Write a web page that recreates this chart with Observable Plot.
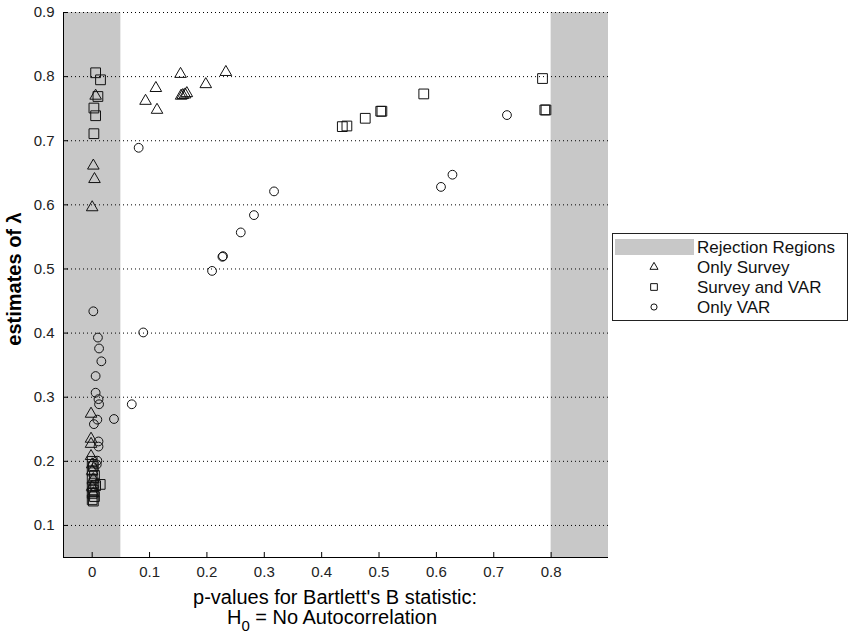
<!DOCTYPE html>
<html>
<head>
<meta charset="utf-8">
<script src="https://cdn.jsdelivr.net/npm/d3@7"></script>
<script src="https://cdn.jsdelivr.net/npm/@observablehq/plot@0.6"></script>
<style>
  body { margin: 0; background: #fff; }
  #wrap { position: relative; width: 850px; height: 635px; font-family: "Liberation Sans", Arial, sans-serif; }
  #legend { position: absolute; left: 612px; top: 233px; }
</style>
</head>
<body>
<div id="wrap"></div>
<script>
// ---- data ----
const xTicks = [0, 0.1, 0.2, 0.3, 0.4, 0.5, 0.6, 0.7, 0.8];
const xTickLabels = ["0", "0.1", "0.2", "0.3", "0.4", "0.5", "0.6", "0.7", "0.8"];
const yTicks = [0.1, 0.2, 0.3, 0.4, 0.5, 0.6, 0.7, 0.8, 0.9];
const yTickLabels = ["0.1", "0.2", "0.3", "0.4", "0.5", "0.6", "0.7", "0.8", "0.9"];
const rejectionStart = [-0.05, 0.8];
const rejectionEnd = [0.05, 0.9];

// Only Survey (triangles)
const surveyP = [0.154, 0.233, 0.111, 0.198, 0.093, 0.113, 0.155, 0.158, 0.162, 0.165,
  0.002, 0.004, 0.000, 0.006, -0.002, -0.002, -0.002, -0.002, 0.000, 0.000, 0.002, 0.000, 0.002];
const surveyL = [0.804, 0.807, 0.782, 0.788, 0.762, 0.748, 0.770, 0.771, 0.772, 0.774,
  0.661, 0.640, 0.596, 0.770, 0.274, 0.235, 0.227, 0.208, 0.195, 0.185, 0.172, 0.160, 0.150];

// Survey and VAR (squares)
const bothP = [0.006, 0.0145, 0.010, 0.003, 0.006, 0.003, 0.785, 0.789, 0.791, 0.578, 0.503, 0.505, 0.476, 0.436, 0.444,
  0.000, 0.002, 0.000, 0.004, 0.000, 0.003, 0.000, 0.014, 0.006, 0.002, 0.000, 0.004, 0.000, 0.002];
const bothL = [0.806, 0.795, 0.769, 0.751, 0.739, 0.711, 0.797, 0.748, 0.748, 0.773, 0.746, 0.746, 0.735, 0.722, 0.723,
  0.200, 0.192, 0.185, 0.178, 0.172, 0.166, 0.160, 0.164, 0.162, 0.155, 0.150, 0.145, 0.140, 0.138];

// Only VAR (circles)
const varP = [0.723, 0.628, 0.608, 0.317, 0.282, 0.259, 0.227, 0.228, 0.209, 0.081, 0.089, 0.069,
  0.002, 0.010, 0.012, 0.016, 0.006, 0.006, 0.011, 0.012, 0.009, 0.038, 0.003, 0.011, 0.011, 0.009, 0.008];
const varL = [0.740, 0.647, 0.628, 0.621, 0.584, 0.557, 0.519, 0.520, 0.497, 0.689, 0.401, 0.289,
  0.434, 0.393, 0.376, 0.356, 0.333, 0.307, 0.297, 0.289, 0.265, 0.266, 0.258, 0.231, 0.223, 0.201, 0.195];

const legendLabels = ["Rejection Regions", "Only Survey", "Survey and VAR", "Only VAR"];

// ---- build tables ----
const regions = rejectionStart.map((s, i) => ({x1: s, x2: rejectionEnd[i]}));
const survey = surveyP.map((p, i) => ({p, l: surveyL[i]}));
const both = bothP.map((p, i) => ({p, l: bothL[i]}));
const onlyVar = varP.map((p, i) => ({p, l: varL[i]}));

const chart = Plot.plot({
  width: 850,
  height: 635,
  marginLeft: 63,
  marginRight: 242,
  marginTop: 12,
  marginBottom: 78,
  style: {fontFamily: '"Liberation Sans", Arial, sans-serif', fontSize: "15px", background: "#fff", color: "#000"},
  x: {domain: [-0.05, 0.9]},
  y: {domain: [0.05, 0.9]},
  marks: [
    Plot.rect(regions, {x1: "x1", x2: "x2", fill: "#c8c8c8"}),
    Plot.ruleY(yTicks, {stroke: "#000", strokeWidth: 1, strokeDasharray: "1,3"}),
    Plot.dot(survey, {x: "p", y: "l", symbol: "triangle", r: 4.3, stroke: "#111", strokeWidth: 1, fill: "none"}),
    Plot.dot(both, {x: "p", y: "l", symbol: "square", r: 5.5, stroke: "#111", strokeWidth: 1, fill: "none"}),
    Plot.dot(onlyVar, {x: "p", y: "l", symbol: "circle", r: 4.4, stroke: "#111", strokeWidth: 1, fill: "none"}),
    Plot.axisX(xTicks, {tickSize: -5, tickPadding: 14, tickFormat: (d, i) => xTickLabels[i], label: null, fill: "#222"}),
    Plot.axisY(yTicks, {tickSize: -5, tickPadding: 14, tickFormat: (d, i) => yTickLabels[i], label: null, fill: "#222"}),
    Plot.ruleX([-0.05], {stroke: "#000"}),
    Plot.ruleY([0.05], {stroke: "#000"})
  ]
});

const wrap = document.getElementById("wrap");
wrap.appendChild(chart);

// axis titles
const svg = d3.select(chart);
svg.append("text")
  .attr("transform", "translate(16,279) rotate(-90)")
  .attr("text-anchor", "middle")
  .attr("dominant-baseline", "middle")
  .attr("font-size", 20)
  .attr("font-weight", "bold")
  .attr("fill", "#000")
  .text("estimates of λ");
svg.append("text")
  .attr("x", 335).attr("y", 604)
  .attr("text-anchor", "middle")
  .attr("font-size", 20)
  .attr("fill", "#000")
  .text("p-values for Bartlett's B statistic:");
const t2 = svg.append("text")
  .attr("x", 332).attr("y", 624)
  .attr("text-anchor", "middle")
  .attr("font-size", 20)
  .attr("fill", "#000");
t2.append("tspan").text("H");
t2.append("tspan").attr("dy", 7).attr("font-size", 15).text("0");
t2.append("tspan").attr("dy", -7).text(" = No Autocorrelation");

// legend
const lw = 236, lh = 88;
const leg = d3.select(wrap).append("svg")
  .attr("id", "legend")
  .attr("width", lw).attr("height", lh)
  .style("font-family", '"Liberation Sans", Arial, sans-serif');
leg.append("rect").attr("x", 0.5).attr("y", 0.5).attr("width", lw - 1).attr("height", lh - 1)
  .attr("fill", "#fff").attr("stroke", "#222");
const rowY = [14, 34, 54, 74];
leg.append("rect").attr("x", 3).attr("y", rowY[0] - 8).attr("width", 79).attr("height", 16).attr("fill", "#c8c8c8");
const sym = [null, d3.symbolTriangle, d3.symbolSquare, d3.symbolCircle];
const symSize = [0, 28, 45, 30];
for (let i = 1; i < 4; i++) {
  leg.append("path")
    .attr("d", d3.symbol(sym[i], symSize[i])())
    .attr("transform", `translate(42,${rowY[i]})`)
    .attr("fill", "none").attr("stroke", "#111");
}
legendLabels.forEach((s, i) => {
  leg.append("text").attr("x", 85).attr("y", rowY[i]).attr("dy", "0.35em")
    .attr("font-size", 17).attr("fill", "#111").text(s);
});
</script>
</body>
</html>
